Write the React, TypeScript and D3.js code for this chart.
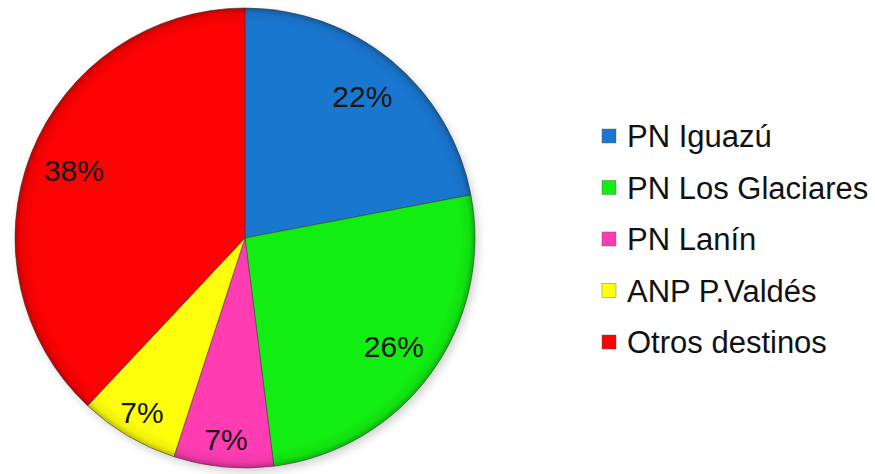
import * as d3 from "d3";
import React, {useEffect, useRef} from "react";

const categories = ["PN Iguazú", "PN Los Glaciares", "PN Lanín", "ANP P.Valdés", "Otros destinos"];
const shares = [22, 26, 7, 7, 38];
const colors = ["#1a77d0", "#12ee12", "#ff3cb2", "#ffff0c", "#fc0202"];

const W = 875;
const H = 474;

const App = () => {
    const svgRef = useRef(null);

    useEffect(() => {
        const cx = 245, cy = 238, R = 230;
        const svgEl = d3.select(svgRef.current);
        svgEl.selectAll("*").remove();

        const defs = svgEl.append("defs");
        // sombra suave alrededor del circulo
        const blur = defs.append("filter").attr("id", "shadow")
            .attr("x", "-10%").attr("y", "-10%").attr("width", "120%").attr("height", "120%");
        blur.append("feGaussianBlur").attr("stdDeviation", 4);

        // brillo / bisel del borde
        const rim = defs.append("radialGradient").attr("id", "rim")
            .attr("cx", "50%").attr("cy", "50%").attr("r", "50%");
        rim.append("stop").attr("offset", "0.93").attr("stop-color", "#000").attr("stop-opacity", 0);
        rim.append("stop").attr("offset", "0.975").attr("stop-color", "#000").attr("stop-opacity", 0.06);
        rim.append("stop").attr("offset", "1").attr("stop-color", "#000").attr("stop-opacity", 0.25);

        const g = svgEl.append("g").attr("transform", `translate(${cx},${cy})`);

        g.append("circle")
            .attr("cx", 3).attr("cy", 4).attr("r", R)
            .attr("fill", "#999").attr("opacity", 0.45)
            .attr("filter", "url(#shadow)");

        const pie = d3.pie().sort(null).value(d => d)(shares);
        const arc = d3.arc().innerRadius(0).outerRadius(R);

        g.selectAll(".slice")
            .data(pie)
            .enter()
            .append("path")
            .attr("d", arc)
            .attr("fill", (d, i) => colors[i])
            .attr("stroke", "#3a3a3a")
            .attr("stroke-opacity", 0.55)
            .attr("stroke-width", 1);

        g.append("circle").attr("r", R).attr("fill", "url(#rim)");

        const bigArc = d3.arc().innerRadius(R * 0.8).outerRadius(R * 0.8);
        const smallArc = d3.arc().innerRadius(R * 0.88).outerRadius(R * 0.88);

        g.selectAll(".lbl")
            .data(pie)
            .enter()
            .append("text")
            .attr("transform", d => `translate(${(d.data < 10 ? smallArc : bigArc).centroid(d)})`)
            .attr("text-anchor", "middle")
            .attr("dy", "0.36em")
            .attr("font-family", "Liberation Sans, Arial, sans-serif")
            .attr("font-size", 30)
            .attr("fill", "#151515")
            .text(d => `${d.data}%`);

        // leyenda
        const leg = svgEl.append("g").attr("transform", "translate(602,147)");
        const rows = leg.selectAll(".row")
            .data(categories)
            .enter()
            .append("g")
            .attr("transform", (d, i) => `translate(0,${i * 51.5})`);

        rows.append("rect")
            .attr("x", 0).attr("y", -18)
            .attr("width", 14).attr("height", 14)
            .attr("fill", (d, i) => colors[i])
            .attr("stroke", "#555").attr("stroke-opacity", 0.5).attr("stroke-width", 0.8);

        rows.append("text")
            .attr("x", 25).attr("y", 0)
            .attr("font-family", "Liberation Sans, Arial, sans-serif")
            .attr("font-size", 31)
            .attr("fill", "#111")
            .text(d => d);
    }, []);

    return (
        <svg ref={svgRef} width={W} height={H}
             style={{position: "absolute", left: 0, top: 0, background: "#fff"}}/>
    );
};

export default App;
